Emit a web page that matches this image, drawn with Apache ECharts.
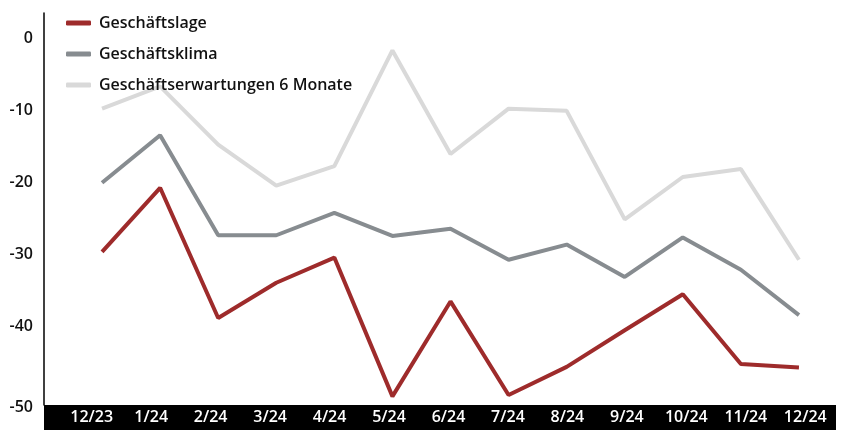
<!DOCTYPE html>
<html>
<head>
<meta charset="utf-8">
<script src="https://cdn.jsdelivr.net/npm/echarts@6/dist/echarts.min.js"></script>
<style>
  html, body { margin: 0; padding: 0; background: #fff; }
  #chart { width: 843px; height: 430px; }
</style>
</head>
<body>
<div id="chart"></div>
<script>
const months = ['12/23', '1/24', '2/24', '3/24', '4/24', '5/24', '6/24', '7/24', '8/24', '9/24', '10/24', '11/24', '12/24']
const geschaeftslage = [-29.6, -20.7, -38.8, -33.9, -30.4, -49.7, -36.5, -49.5, -45.6, -40.5, -35.5, -45.2, -45.7]
const geschaeftsklima = [-20.0, -13.4, -27.3, -27.3, -24.2, -27.4, -26.4, -30.7, -28.6, -33.1, -27.6, -32.1, -38.4]
const erwartungen = [-9.7, -6.6, -14.7, -20.4, -17.7, -1.6, -16.0, -9.7, -10.0, -25.1, -19.2, -18.1, -30.7]
const yTicks = [0, -10, -20, -30, -40, -50]

const font = '"Open Sans", "Noto Sans", sans-serif'
const chart = echarts.init(document.getElementById('chart'))

const option = {
  animation: false,
  backgroundColor: '#fff',
  grid: [
    { left: 73, right: 15, top: 13, bottom: 25 },
    { left: 62, right: 8, top: 404, height: 1 },
  ],
  // black band behind the month labels
  graphic: [
    {
      type: 'rect',
      z: -1,
      shape: { x: 44, y: 405, width: 792, height: 25 },
      style: { fill: '#000' },
    },
  ],
  legend: {
    orient: 'vertical',
    left: 66,
    top: 13,
    padding: 0,
    icon: 'roundRect',
    itemWidth: 25,
    itemHeight: 5,
    itemGap: 11,
    textStyle: {
      fontFamily: font,
      fontSize: 16,
      fontWeight: 600,
      color: '#111',
      lineHeight: 20,
      padding: [0, 0, 0, 3],
    },
    data: ['Geschäftslage', 'Geschäftsklima', 'Geschäftserwartungen 6 Monate'],
  },
  xAxis: [
    {
      type: 'category',
      gridIndex: 0,
      data: months,
      axisLine: { show: false },
      axisTick: { show: false },
      axisLabel: { show: false },
    },
    {
      type: 'category',
      gridIndex: 1,
      data: months,
      axisLine: { show: false },
      axisTick: { show: false },
      axisLabel: {
        color: '#fff',
        fontFamily: font,
        fontSize: 16,
        fontWeight: 600,
        margin: 4,
      },
    },
  ],
  yAxis: [
    {
      type: 'value',
      gridIndex: 0,
      min: -50.9,
      max: 3.6,
      offset: 29,
      splitLine: { show: false },
      axisTick: { show: false },
      axisLine: { show: true, lineStyle: { color: '#000', width: 1.5 } },
      axisLabel: {
        customValues: yTicks,
        margin: 11,
        color: '#111',
        fontFamily: font,
        fontSize: 16,
        fontWeight: 600,
        formatter: (v) => (v === -50 ? '{low|-50}' : String(v)),
        rich: {
          low: { padding: [17, 0, 0, 0], fontFamily: font, fontSize: 16, fontWeight: 600, color: '#111' },
        },
      },
    },
    {
      type: 'value',
      gridIndex: 1,
      show: false,
    },
  ],
  series: [
    {
      name: 'Geschäftserwartungen 6 Monate',
      type: 'line',
      data: erwartungen,
      symbol: 'none',
      z: 2,
      itemStyle: { color: '#d9d9d9' },
      lineStyle: { color: '#d9d9d9', width: 4 },
    },
    {
      name: 'Geschäftsklima',
      type: 'line',
      data: geschaeftsklima,
      symbol: 'none',
      z: 3,
      itemStyle: { color: '#878c90' },
      lineStyle: { color: '#878c90', width: 4 },
    },
    {
      name: 'Geschäftslage',
      type: 'line',
      data: geschaeftslage,
      symbol: 'none',
      z: 4,
      itemStyle: { color: '#9e2b2b' },
      lineStyle: { color: '#9e2b2b', width: 4 },
    },
  ],
}

chart.setOption(option)
</script>
</body>
</html>
